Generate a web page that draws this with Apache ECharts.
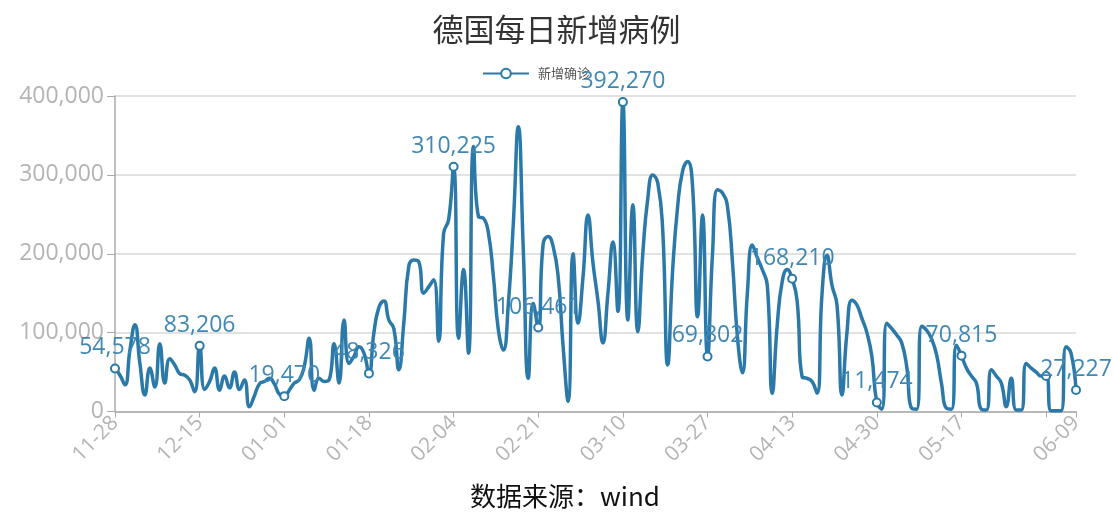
<!DOCTYPE html>
<html>
<head>
<meta charset="utf-8">
<script src="https://cdn.jsdelivr.net/npm/echarts@6/dist/echarts.min.js"></script>
<style>
html,body{margin:0;padding:0;background:#fff;}
#c{width:1113px;height:518px;}
</style>
</head>
<body>
<div id="c"></div>
<script>
// Categories: daily dates from 11-28 to 06-09
const startDate = [2021, 10, 28];
const dayCount = 194;
const dates = [];
for (let k = 0; k < dayCount; k++) {
  const d = new Date(Date.UTC(startDate[0], startDate[1], startDate[2] + k));
  dates.push(String(d.getUTCMonth() + 1).padStart(2, '0') + '-' + String(d.getUTCDate()).padStart(2, '0'));
}

// Daily new confirmed cases
const newCases = [
  54578, 46000, 34000, 78000, 110000, 61000, 21000, 55000, 31000, 86000,
  36000, 67000, 59000, 48000, 46000, 40000, 25000, 83206, 28000, 38000,
  55000, 27000, 45000, 30000, 50000, 28000, 40000, 6000, 20000, 35000,
  38000, 42000, 35000, 22000, 19470, 27000, 36000, 40000, 57000, 93000,
  27000, 42000, 38000, 40000, 86000, 36000, 116000, 61000, 70000, 82000,
  74000, 48326, 100000, 132000, 140000, 116000, 105000, 53000, 112000, 184000,
  192000, 190000, 150000, 158000, 167000, 89000, 226000, 243000, 310225, 93000,
  180000, 74000, 336000, 247000, 245000, 226000, 171000, 103000, 78000, 137000,
  239000, 361000, 205000, 42000, 137000, 106461, 213000, 222000, 209000, 171000,
  82000, 13000, 200000, 112000, 171000, 249000, 188000, 140000, 87000, 150000,
  215000, 127000, 392270, 116000, 262000, 101000, 200000, 270000, 300000, 290000,
  230000, 59000, 180000, 260000, 305000, 317000, 285000, 120000, 249000, 69802,
  200000, 281000, 277000, 260000, 190000, 95000, 49000, 150000, 211000, 195000,
  180000, 160000, 23000, 110000, 165000, 180000, 168210, 140000, 44000, 42000,
  38000, 23000, 150000, 198000, 160000, 135000, 21000, 100000, 141000, 135000,
  118000, 100000, 70000, 11474, 3000, 112000, 105000, 97000, 87000, 57000,
  4000, 3000, 108000, 103000, 92000, 72000, 35000, 4000, 3000, 84000,
  70815, 55000, 45000, 36000, 3000, 2000, 53000, 45000, 36000, 6000,
  42000, 2000, 2000, 61000, 55000, 50000, 45000, 45000, 1000, 1000,
  1000, 82000, 74000, 27227
];

// Points that carry a marker / a value label
const markedIdx = [0, 17, 34, 51, 68, 85, 102, 119, 136, 153, 170, 187, 193];
const labelledIdx = [0, 17, 34, 51, 68, 85, 102, 119, 136, 153, 170, 193];
const yTicks = [0, 100000, 200000, 300000, 400000];

const fmt = v => String(v).replace(/\B(?=(\d{3})+(?!\d))/g, ',');
const lineColor = '#2a79a8';

const seriesData = newCases.map((v, i) => {
  if (markedIdx.indexOf(i) >= 0) {
    return { value: v, symbol: 'emptyCircle', label: { show: labelledIdx.indexOf(i) >= 0 } };
  }
  return { value: v, symbol: 'none' };
});

const chart = echarts.init(document.getElementById('c'));
chart.setOption({
  animation: false,
  backgroundColor: '#fff',
  title: {
    text: '德国每日新增病例',
    left: 'center',
    top: 9,
    textStyle: { fontSize: 31, fontWeight: 'normal', color: '#333', fontFamily: 'Noto Sans CJK SC' }
  },
  legend: {
    data: ['新增确诊'],
    left: 477,
    top: 62,
    itemWidth: 46,
    itemHeight: 12,
    itemGap: 10,
    textStyle: { fontSize: 13, color: '#555', fontFamily: 'Noto Sans CJK SC', padding: [0, 0, 0, 4] }
  },
  grid: { left: 115, right: 37, top: 96, bottom: 106.5, containLabel: false },
  xAxis: {
    type: 'category',
    boundaryGap: false,
    data: dates,
    axisLine: { show: true, lineStyle: { color: '#aaa', width: 1.5 } },
    axisTick: {
      show: true, length: 6, lineStyle: { color: '#aaa' },
      interval: i => markedIdx.indexOf(i) >= 0
    },
    axisLabel: {
      rotate: 45,
      color: '#b4b4b4',
      fontSize: 21,
      fontFamily: 'Open Sans',
      margin: 8,
      interval: i => labelledIdx.indexOf(i) >= 0
    }
  },
  yAxis: {
    type: 'value',
    min: yTicks[0],
    max: yTicks[yTicks.length - 1],
    interval: yTicks[1] - yTicks[0],
    axisLine: { show: true, lineStyle: { color: '#aaa', width: 1.5 } },
    axisTick: { show: true, length: 8, lineStyle: { color: '#aaa' } },
    splitLine: { show: true, lineStyle: { color: '#d8d8d8', width: 1.5 } },
    axisLabel: {
      color: '#b4b4b4',
      fontSize: 23,
      fontFamily: 'Open Sans',
      margin: 11,
      formatter: v => fmt(v)
    }
  },
  graphic: [
    {
      type: 'text',
      left: 470,
      top: 483,
      style: { text: '数据来源：wind', fontSize: 26, fill: '#111', fontFamily: 'Noto Sans CJK SC' }
    }
  ],
  series: [
    {
      name: '新增确诊',
      type: 'line',
      data: seriesData,
      smooth: true,
      showSymbol: true,
      showAllSymbol: true,
      symbolSize: 8,
      lineStyle: { color: lineColor, width: 3.5 },
      itemStyle: { color: lineColor, borderColor: lineColor, borderWidth: 1.5 },
      label: {
        show: false,
        position: 'top',
        distance: 4,
        color: '#3f88b5',
        fontSize: 23,
        fontFamily: 'Open Sans',
        formatter: p => fmt(p.value)
      }
    }
  ]
});
</script>
</body>
</html>
